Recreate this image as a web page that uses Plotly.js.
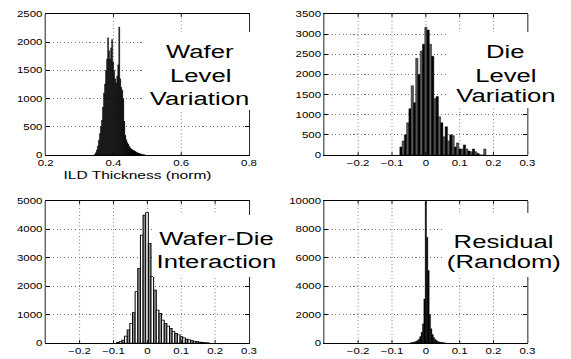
<!DOCTYPE html>
<html><head><meta charset="utf-8">
<script src="https://cdn.plot.ly/plotly-3.0.1.min.js"></script>
<style>
html,body{margin:0;padding:0;background:#fff;overflow:hidden;width:571px;height:359px}
#wrap{width:571px;height:359px;overflow:hidden}
#chart{width:423px;height:359px;transform:scaleX(1.35);transform-origin:0 0}
</style></head><body><div id="wrap"><div id="chart"></div></div>
<script>
// ---------- data (histogram counts) ----------
const waferX0 = 0.345, waferDx = 0.003;
const waferCounts = [10,40,90,160,260,380,500,620,850,1100,1260,1500,1700,2080,1850,1700,1900,2050,1650,1500,1350,1280,1400,1600,2270,1350,1200,1150,1000,600,350,270,220,190,150,125,105,92,82,75,62,50,42,35,28,20,15,10,6,3];

const dieX0 = -0.0735, dieDx = 0.0067;
const dieCounts = [200,350,500,800,1150,1720,1300,2400,2000,2580,2750,3170,3100,2750,2450,1400,1450,950,800,450,700,350,500,480,200,300,150,150,250,150,100,80,150,80,40,0,0,150];

const interX0 = -0.0868, interDx = 0.0078;
const interCounts = [20,50,105,246,458,693,1067,1806,2630,3800,4506,4588,3508,2335,1866,1162,1044,810,692,598,516,399,340,282,223,180,140,106,80,60,45,30,20,12,8];

const residX0 = -0.044, residDx = 0.004;
const residCounts = [15,30,50,80,120,180,280,450,750,1350,3100,9950,7450,5100,2000,1000,600,380,250,170,110,75,50,30,20,12];

const panelLabels = [["Wafer","Level","Variation"],["Die","Level","Variation"],["Wafer-Die","Interaction"],["Residual","(Random)"]];
const xTitleText = "ILD Thickness (norm)";
const xTicksWafer = [0.2,0.4,0.6,0.8];
const xTicksOther = [-0.2,-0.1,0,0.1,0.2,0.3];
const yRanges = [[0,2500],[0,3500],[0,5000],[0,10000]];
const yDticks = [500,500,1000,2000];

// ---------- styling / layout ----------
const S = 1.35, W = 571, H = 359;
const F = "Liberation Sans, Arial, Helvetica, sans-serif";
const px = p => p / W;
const py = p => 1 - p / H;

function alt(n, a, b){ const c=[]; for(let i=0;i<n;i++) c.push(i%2? b : a); return c; }

const traces = [
  {type:'bar', x0:waferX0, dx:waferDx, y:waferCounts, width:waferDx, xaxis:'x', yaxis:'y',
   marker:{color:'#000', line:{color:'#000', width:0.3}}},
  {type:'bar', x0:dieX0, dx:dieDx, y:dieCounts, width:dieDx, xaxis:'x2', yaxis:'y2',
   marker:{color:alt(dieCounts.length,'#000','#5a5a5a'), line:{color:'#000', width:0.4}}},
  {type:'bar', x0:interX0, dx:interDx, y:interCounts, width:interDx, xaxis:'x3', yaxis:'y3',
   marker:{color:alt(interCounts.length,'#8c8c8c','#ffffff'), line:{color:'#000', width:0.75}}},
  {type:'bar', x0:residX0, dx:residDx, y:residCounts, width:residDx, xaxis:'x4', yaxis:'y4',
   marker:{color:'#000', line:{color:'#000', width:0.3}}}
];

const tickfont = {family:F, size:8.5, color:'#000'};
function xax(domain, range, tickvals, anchor){
  return {domain, range, tickvals, anchor, showline:true, linecolor:'#000', linewidth:1,
    mirror:'ticks', ticks:'inside', ticklen:3, tickwidth:1/S, tickcolor:'#000',
    showgrid:true, gridcolor:'#707070', gridwidth:1/S, griddash:'1px,2.5px',
    zeroline:false, tickfont, fixedrange:true};
}
function yax(domain, range, dtick, anchor){
  return {domain, range, dtick, tick0:0, anchor, showline:true, linecolor:'#000', linewidth:1/S,
    mirror:'ticks', ticks:'inside', ticklen:3, tickwidth:1, tickcolor:'#000',
    showgrid:true, gridcolor:'#707070', gridwidth:1, griddash:'0.8px,1.9px',
    zeroline:false, tickfont, tickformat:'d', fixedrange:true};
}
const dx1 = [px(45.7), px(249)], dx2 = [px(324.3), px(527.3)];
const dy1 = [py(155), py(14)], dy2 = [py(343), py(201)];

const layout = {
  width:423, height:359, margin:{l:0,r:0,t:0,b:0}, showlegend:false,
  paper_bgcolor:'#fff', plot_bgcolor:'#fff', bargap:0,
  xaxis: xax(dx1,[0.2,0.8],xTicksWafer,'y'),
  yaxis: yax(dy1,yRanges[0],yDticks[0],'x'),
  xaxis2: xax(dx2,[-0.3,0.3],xTicksOther,'y2'),
  yaxis2: yax(dy1,yRanges[1],yDticks[1],'x2'),
  xaxis3: xax(dx1,[-0.3,0.3],xTicksOther,'y3'),
  yaxis3: yax(dy2,yRanges[2],yDticks[2],'x3'),
  xaxis4: xax(dx2,[-0.3,0.3],xTicksOther,'y4'),
  yaxis4: yax(dy2,yRanges[3],yDticks[3],'x4'),
  shapes: [
    [142,256,32,110],[448,566,32,108],[153,282,215,277],[442,566,213,277]
  ].map(b => ({type:'rect', xref:'paper', yref:'paper', layer:'above',
     x0:px(b[0]), x1:px(b[1]), y0:py(b[3]), y1:py(b[2]), fillcolor:'#fff', line:{width:0}})),
  annotations: []
};

// big panel labels: [panel, line] -> center x, middle y (final pixels)
const labelPos = [
  [[200,51.5],[200,75.5],[200,98.5]],
  [[505,51.5],[505,75.5],[506,95.5]],
  [[216,238.5],[216,261.5]],
  [[503,241.5],[503,261.5]]
];
panelLabels.forEach((lines,i)=>lines.forEach((t,j)=>{
  layout.annotations.push({text:t, xref:'paper', yref:'paper', x:px(labelPos[i][j][0]), y:py(labelPos[i][j][1]),
    xanchor:'center', yanchor:'middle', showarrow:false, font:{family:F, size:19, color:'#000'}});
}));
layout.annotations.push({text:xTitleText, xref:'paper', yref:'paper', x:px(138), y:py(175.5),
  xanchor:'center', yanchor:'middle', showarrow:false, font:{family:F, size:11.5, color:'#000'}});

Plotly.newPlot('chart', traces, layout, {staticPlot:true, displayModeBar:false});
</script></body></html>
